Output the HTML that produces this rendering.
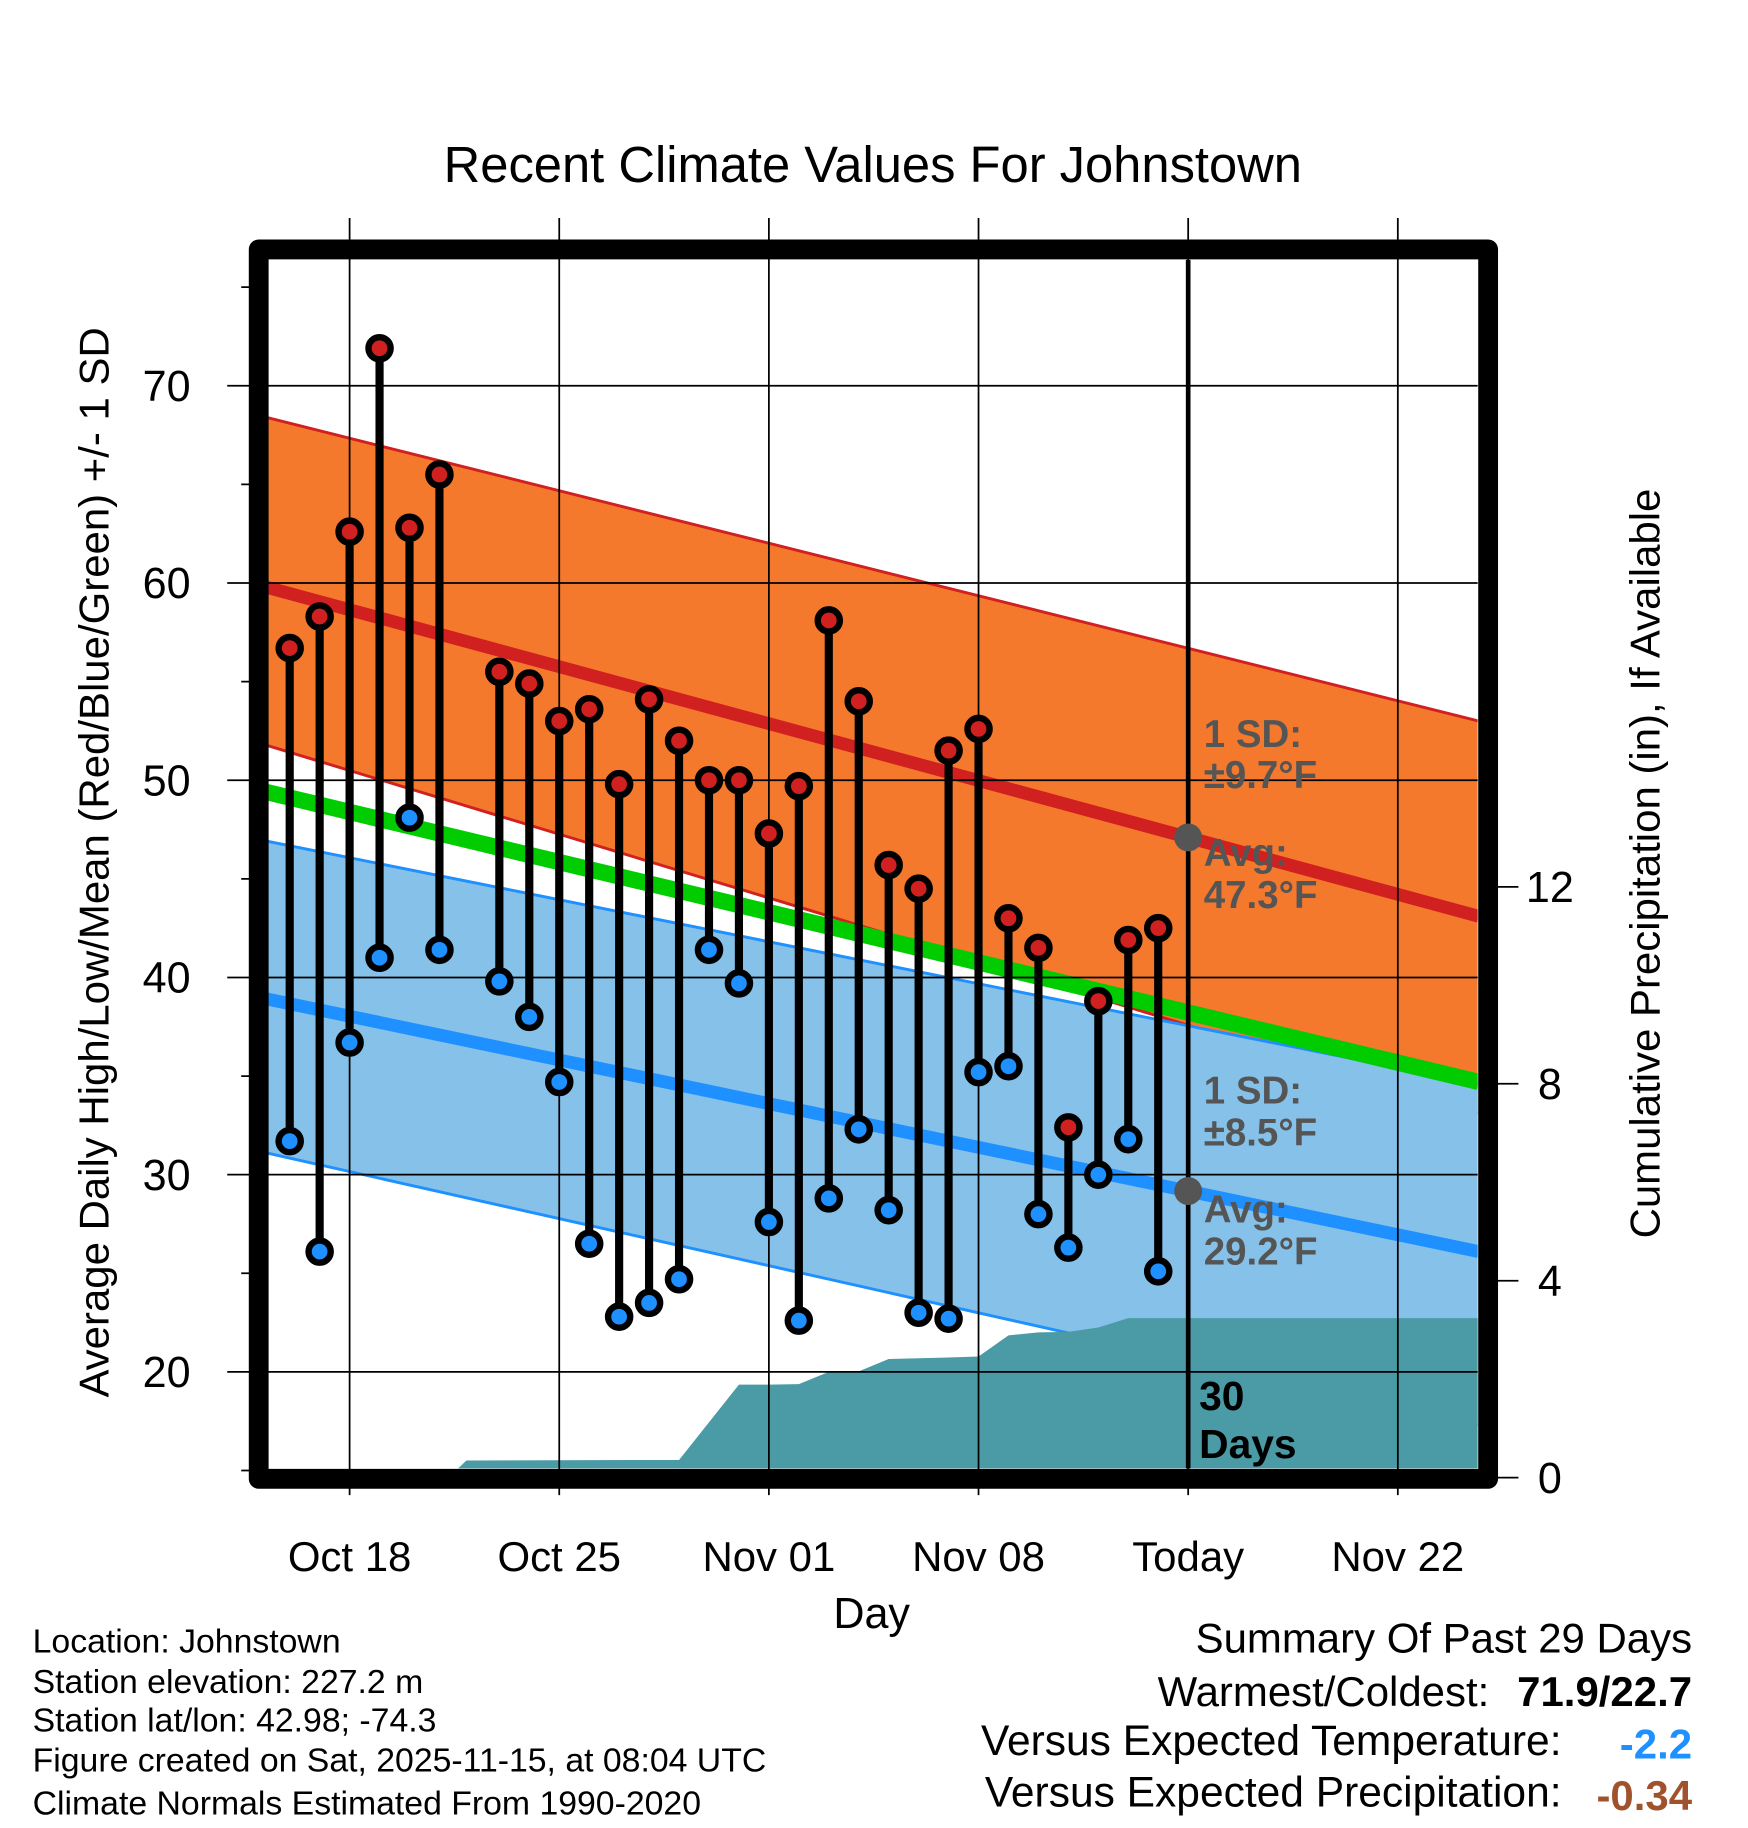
<!DOCTYPE html>
<html><head><meta charset="utf-8"><style>
html,body{margin:0;padding:0;background:#fff}
svg{display:block;font-family:"Liberation Sans",Arial,sans-serif}
</style></head><body>
<svg id="chart" width="1748" height="1828" viewBox="0 0 1500 1568.6" xmlns="http://www.w3.org/2000/svg">
</svg>
<script>
// ---- data ----
const dayNums = [-2,-1,0,1,2,3,5,6,7,8,9,10,11,12,13,14,15,16,17,18,19,20,21,22,23,24,25,26,27];
const highs = [56.7,58.3,62.6,71.9,62.8,65.5,55.5,54.9,53.0,53.6,49.8,54.1,52.0,50.0,50.0,47.3,49.7,58.1,54.0,45.7,44.5,51.5,52.6,43.0,41.5,32.4,38.8,41.9,42.5];
const lows = [31.7,26.1,36.7,41.0,48.1,41.4,39.8,38.0,34.7,26.5,22.8,23.5,24.7,41.4,39.7,27.6,22.6,28.8,32.3,28.2,23.0,22.7,35.2,35.5,28.0,26.3,30.0,31.8,25.1];
const normDays = [-3.05, 37.7];
const normHighMean = [59.9, 43.1];
const normHighUpper = [68.5, 53.0];
const normHighLower = [51.9, 33.1];
const normMean = [49.5, 34.7];
const normLowMean = [39.0, 26.1];
const normLowUpper = [47.0, 34.6];
const normLowLower = [31.2, 17.3];
const precipDays = [-3.05,3.3,3.9,11,13,14,15,16,17,18,20,21,22,23,24,25,26,38];
const precipCum = [0,0,0.35,0.36,1.89,1.89,1.9,2.15,2.16,2.41,2.44,2.46,2.89,2.95,2.96,3.05,3.24,3.24];
const xTickDays = [0,7,14,21,28,35];
const xTickLabels = ["Oct 18","Oct 25","Nov 01","Nov 08","Today","Nov 22"];
const yTicks = [20,30,40,50,60,70];
const yMinor = [15,25,35,45,55,65,75];
const y2Ticks = [0,4,8,12];

// ---- axes ----
const X = d => 300 + 25.7*d;
const Y = v => 331 + (70 - v)*16.925;
const Y2 = p => 1268 - p*42.25;
const L=230,R=1268,T=223,B=1260;
const NS="http://www.w3.org/2000/svg";
const svg=document.getElementById('chart');
function mk(tag,attrs,parent){const e=document.createElementNS(NS,tag);for(const k in attrs)e.setAttribute(k,attrs[k]);(parent||svg).appendChild(e);return e;}
function txt(s,attrs){const e=mk('text',attrs);e.textContent=s;return e;}
const clipDef=mk('defs',{});
const cp=mk('clipPath',{id:'plotclip'},clipDef);
mk('rect',{x:L,y:T,width:R-L,height:B-T},cp);
const plot=mk('g',{'clip-path':'url(#plotclip)'});



function band(up,lo,fill,name){
  const pts=normDays.map((d,i)=>X(d)+','+Y(up[i])).concat(normDays.slice().reverse().map((d,j)=>{const i=normDays.length-1-j;return X(d)+','+Y(lo[i]);}));
  const p=mk('polygon',{points:pts.join(' '),fill:fill},plot);
  
  
}
function line(vals,color,w,name){
  const p=mk('polyline',{points:normDays.map((d,i)=>X(d)+','+Y(vals[i])).join(' '),fill:'none',stroke:color,'stroke-width':w},plot);
  
  
}
band(normHighUpper,normHighLower,'#f5792d','high-sd-band');
line(normHighUpper,'#d02020',2.5,'high-upper-edge');
line(normHighLower,'#d02020',2.5,'high-lower-edge');
band(normLowUpper,normLowLower,'#85c1e8','low-sd-band');
line(normLowUpper,'#1e90ff',2.5,'low-upper-edge');
line(normLowLower,'#1e90ff',2.5,'low-lower-edge');
line(normMean,'#00cc00',14,'mean-normal-line');
line(normHighMean,'#d02020',11,'high-normal-line');
line(normLowMean,'#1e90ff',11,'low-normal-line');

// grid
yTicks.forEach(v=>{
  const g=mk('line',{x1:195,x2:R,y1:Y(v),y2:Y(v),stroke:'#000','stroke-width':1.5});
  
  
  const t=txt(String(v),{x:143,y:Y(v)+13,'font-size':37,'text-anchor':'middle'});
  
  
});
yMinor.forEach(v=>{
  const g=mk('line',{x1:207,x2:L,y1:Y(v),y2:Y(v),stroke:'#000','stroke-width':1.5});
  
  
});
xTickDays.forEach((d,i)=>{
  const g=mk('line',{x1:X(d),x2:X(d),y1:187,y2:1283,stroke:'#000','stroke-width':1.5});
  
  
  const t=txt(xTickLabels[i],{x:X(d),y:1348,'font-size':36,'text-anchor':'middle'});
  
  
});
y2Ticks.forEach(p=>{
  const g=mk('line',{x1:1285,x2:1303,y1:Y2(p),y2:Y2(p),stroke:'#000','stroke-width':1.5});
  
  
  const t=txt(String(p),{x:1330,y:Y2(p)+13,'font-size':37,'text-anchor':'middle'});
  
  
});

// precip
const pp=precipDays.map((d,i)=>X(d)+','+Y2(precipCum[i]));
pp.push(X(precipDays[precipDays.length-1])+','+(B+5));pp.push(X(precipDays[0])+','+(B+5));
const pa=mk('polygon',{points:pp.join(' '),fill:'#4a9ba5'},plot);



// today line
const tl=mk('line',{x1:X(28),x2:X(28),y1:T,y2:B,stroke:'#000','stroke-width':4});


[normHighMean,normLowMean].forEach((arr,i)=>{
  const v=arr[0]+(arr[1]-arr[0])*(28-normDays[0])/(normDays[1]-normDays[0]);
  const c=mk('circle',{cx:X(28),cy:Y(v),r:12,fill:'#555'});
  
  
});
const ann=[["1 SD:",641],["±9.7°F",676],["Avg:",743],["47.3°F",779],["1 SD:",947],["±8.5°F",983],["Avg:",1049],["29.2°F",1085]];
ann.forEach(a=>{const t=txt(a[0],{x:1033,y:a[1],'font-size':33,'font-weight':'bold',fill:'#555'});
  
  });
[["30",1210],["Days",1251]].forEach(a=>{const t=txt(a[0],{x:1029,y:a[1],'font-size':35,'font-weight':'bold',fill:'#000'});
  
  });

// stems & markers
dayNums.forEach((d,i)=>{
  const s=mk('line',{x1:X(d),x2:X(d),y1:Y(highs[i]),y2:Y(lows[i]),stroke:'#000','stroke-width':7});
  
  
  const h=mk('circle',{cx:X(d),cy:Y(highs[i]),r:9.5,fill:'#d02020',stroke:'#000','stroke-width':5.5});
  
  
  const l=mk('circle',{cx:X(d),cy:Y(lows[i]),r:9.5,fill:'#1e90ff',stroke:'#000','stroke-width':5.5});
  
  
});

// frame
const fr=mk('rect',{x:222,y:214,width:1055,height:1055,fill:'none',stroke:'#000','stroke-width':17,'stroke-linejoin':'round'});



// titles
function T2(s,a,name){const t=txt(s,a);return t;}
T2("Recent Climate Values For Johnstown",{x:749,y:156,'font-size':43.5,'text-anchor':'middle'},'chart-title');
T2("Day",{x:748,y:1397,'font-size':37,'text-anchor':'middle'},'x-axis-title');
T2("Average Daily High/Low/Mean (Red/Blue/Green) +/- 1 SD",{x:0,y:0,'font-size':36,'text-anchor':'middle',transform:'translate(93,740) rotate(-90)'},'y-axis-title');
T2("Cumulative Precipitation (in), If Available",{x:0,y:0,'font-size':36,'text-anchor':'middle',transform:'translate(1424,741) rotate(-90)'},'y2-axis-title');
const info=[["Location: Johnstown",1418],["Station elevation: 227.2 m",1453],["Station lat/lon: 42.98; -74.3",1486],["Figure created on Sat, 2025-11-15, at 08:04 UTC",1520],["Climate Normals Estimated From 1990-2020",1557]];
info.forEach(a=>T2(a[0],{x:28,y:a[1],'font-size':29},'station-info'));
T2("Summary Of Past 29 Days",{x:1452,y:1418,'font-size':36,'text-anchor':'end'},'summary-title');
T2("Warmest/Coldest:",{x:1278,y:1464,'font-size':36,'text-anchor':'end'},'warmest-label');
T2("71.9/22.7",{x:1452,y:1464,'font-size':36,'font-weight':'bold','text-anchor':'end'},'warmest-value');
T2("Versus Expected Temperature:",{x:1340,y:1506,'font-size':36.5,'text-anchor':'end'},'temp-dep-label');
T2("-2.2",{x:1452,y:1509,'font-size':36,'font-weight':'bold','text-anchor':'end',fill:'#1e90ff'},'temp-dep-value');
T2("Versus Expected Precipitation:",{x:1340,y:1550,'font-size':36.5,'text-anchor':'end'},'precip-dep-label');
T2("-0.34",{x:1452,y:1553,'font-size':36,'font-weight':'bold','text-anchor':'end',fill:'#a0522d'},'precip-dep-value');
</script>
</body></html>
